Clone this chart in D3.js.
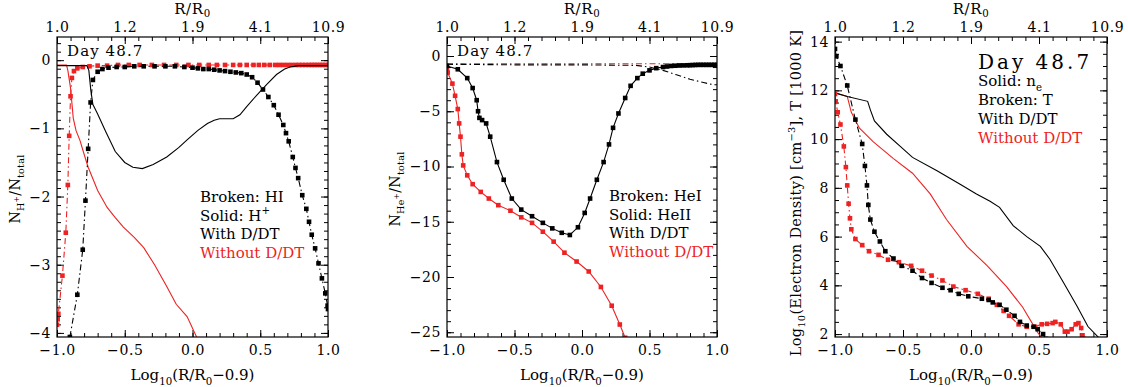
<!DOCTYPE html>
<html><head><meta charset="utf-8">
<script src="https://cdn.jsdelivr.net/npm/d3@7"></script>
<style>
body{margin:0;background:#fff;}
svg{display:block;}
text{font-family:"DejaVu Serif",serif;fill:#000;}
</style></head>
<body><svg id="c" width="1128" height="387"></svg>
<script>
// ---------- tick labels ----------
const xTickValues = [-1, -0.5, 0, 0.5, 1];
const xTickLabels = ["\u22121.0", "\u22120.5", "0.0", "0.5", "1.0"];
const topTickLabels = ["1.0", "1.2", "1.9", "4.1", "10.9"];
const p1YTicks = [0, -1, -2, -3, -4];
const p1YLabels = ["0", "\u22121", "\u22122", "\u22123", "\u22124"];
const p2YTicks = [0, -5, -10, -15, -20, -25];
const p2YLabels = ["0", "\u22125", "\u221210", "\u221215", "\u221220", "\u221225"];
const p3YTicks = [14, 12, 10, 8, 6, 4, 2];
const p3YLabels = ["14", "12", "10", "8", "6", "4", "2"];

// ---------- panel 1: hydrogen ----------
const p1_HII_with = [[-1.0,-0.08],[-0.85,-0.08],[-0.78,-0.08],[-0.765,-0.15],[-0.75,-0.45],[-0.735,-0.65],[-0.70,-0.79],[-0.64,-1.05],[-0.57,-1.34],[-0.50,-1.50],[-0.44,-1.57],[-0.37,-1.59],[-0.29,-1.53],[-0.19,-1.42],[-0.10,-1.28],[-0.04,-1.17],[0.04,-1.03],[0.11,-0.93],[0.16,-0.88],[0.20,-0.86],[0.30,-0.86],[0.35,-0.80],[0.40,-0.68],[0.48,-0.50],[0.55,-0.35],[0.62,-0.21],[0.68,-0.13],[0.72,-0.10],[0.78,-0.08],[1.0,-0.08]];
const p1_HI_with = [[-0.905,-4.06],[-0.85,-3.44],[-0.81,-2.78],[-0.79,-2.06],[-0.77,-1.30],[-0.752,-0.62],[-0.735,-0.29],[-0.70,-0.17],[-0.665,-0.13],[-0.62,-0.11],[-0.56,-0.10],[-0.50,-0.10],[-0.43,-0.09],[-0.36,-0.09],[-0.28,-0.09],[-0.20,-0.09],[-0.13,-0.09],[-0.06,-0.10],[0.0,-0.11],[0.04,-0.12],[0.08,-0.13],[0.12,-0.13],[0.16,-0.14],[0.20,-0.15],[0.24,-0.16],[0.28,-0.17],[0.32,-0.18],[0.36,-0.19],[0.40,-0.21],[0.44,-0.25],[0.48,-0.33],[0.52,-0.43],[0.56,-0.54],[0.60,-0.66],[0.635,-0.80],[0.67,-0.95],[0.69,-1.07],[0.71,-1.19],[0.74,-1.42],[0.76,-1.58],[0.78,-1.73],[0.81,-1.98],[0.84,-2.18],[0.86,-2.37],[0.88,-2.56],[0.905,-2.76],[0.93,-2.98],[0.955,-3.20],[0.98,-3.42],[0.997,-3.60],[1.0,-3.65]];
const p1_HII_without = [[-1.0,-0.07],[-0.93,-0.07],[-0.92,-0.15],[-0.90,-0.41],[-0.88,-0.85],[-0.86,-1.03],[-0.83,-1.18],[-0.80,-1.38],[-0.77,-1.57],[-0.70,-1.91],[-0.63,-2.16],[-0.57,-2.31],[-0.51,-2.45],[-0.43,-2.60],[-0.36,-2.75],[-0.28,-3.00],[-0.19,-3.32],[-0.12,-3.58],[-0.04,-3.76],[0.03,-4.06]];
const p1_HI_without = [[-1.0,-3.88],[-0.995,-3.80],[-0.99,-3.72],[-0.96,-3.16],[-0.935,-2.53],[-0.92,-1.83],[-0.91,-1.11],[-0.90,-0.53],[-0.89,-0.26],[-0.875,-0.16],[-0.85,-0.12],[-0.81,-0.10],[-0.76,-0.09],[-0.70,-0.08],[-0.63,-0.08],[-0.55,-0.07],[-0.47,-0.07],[-0.39,-0.07],[-0.30,-0.07],[-0.21,-0.07],[-0.12,-0.07],[-0.03,-0.07],[0.05,-0.07],[0.12,-0.07],[0.18,-0.07],[0.24,-0.07],[0.30,-0.07],[0.35,-0.07],[0.40,-0.07],[0.45,-0.07],[0.49,-0.07],[0.53,-0.07],[0.57,-0.07],[0.61,-0.07],[0.64,-0.07],[0.67,-0.07],[0.70,-0.07],[0.73,-0.07],[0.76,-0.07],[0.785,-0.07],[0.81,-0.07],[0.835,-0.07],[0.86,-0.07],[0.88,-0.07],[0.90,-0.07],[0.92,-0.07],[0.94,-0.07],[0.96,-0.07],[0.98,-0.07],[1.0,-0.07]];

// ---------- panel 2: helium ----------
const p2_HeII_with = [[-1.0,-0.9],[-0.92,-1.2],[-0.85,-2.0],[-0.81,-2.9],[-0.78,-4.0],[-0.77,-5.0],[-0.76,-5.6],[-0.74,-5.8],[-0.71,-6.1],[-0.68,-7.3],[-0.63,-9.6],[-0.58,-11.2],[-0.52,-12.9],[-0.45,-13.9],[-0.37,-14.5],[-0.29,-15.1],[-0.22,-15.6],[-0.15,-16.0],[-0.09,-16.2],[-0.03,-15.5],[0.02,-14.2],[0.06,-12.9],[0.11,-11.2],[0.16,-9.6],[0.20,-8.0],[0.23,-6.5],[0.27,-5.2],[0.32,-3.8],[0.36,-2.7],[0.41,-2.0],[0.45,-1.6],[0.50,-1.3],[0.55,-1.1],[0.60,-1.0],[0.63,-0.95],[0.66,-0.9],[0.69,-0.88],[0.72,-0.86],[0.75,-0.85],[0.78,-0.84],[0.80,-0.83],[0.82,-0.82],[0.84,-0.81],[0.86,-0.80],[0.88,-0.80],[0.90,-0.80],[0.92,-0.80],[0.94,-0.80],[0.96,-0.80],[0.98,-0.80],[1.0,-0.80]];
const p2_HeI_with = [[-1.0,-0.75],[-0.5,-0.80],[0.0,-0.80],[0.40,-0.85],[0.50,-1.0],[0.60,-1.3],[0.70,-1.7],[0.80,-2.1],[0.90,-2.4],[0.97,-2.6],[1.0,-2.6]];
const p2_HeII_without = [[-1.0,-1.3],[-0.995,-1.5],[-0.96,-2.5],[-0.94,-3.6],[-0.92,-4.8],[-0.91,-6.1],[-0.90,-7.3],[-0.89,-8.9],[-0.88,-9.9],[-0.85,-10.8],[-0.81,-11.6],[-0.75,-12.3],[-0.69,-12.9],[-0.62,-13.5],[-0.53,-14.0],[-0.45,-14.6],[-0.37,-15.1],[-0.29,-15.9],[-0.21,-16.8],[-0.13,-17.8],[-0.04,-18.6],[0.05,-19.5],[0.14,-20.9],[0.22,-22.6],[0.28,-24.3],[0.32,-25.5]];
const p2_HeI_without = [[-1.0,-0.7],[0.0,-0.7],[0.5,-0.7],[1.0,-0.7]];

// ---------- panel 3: electron density & temperature ----------
const p3_ne_with = [[-1.0,11.9],[-0.91,11.75],[-0.76,11.55],[-0.74,11.2],[-0.71,10.75],[-0.62,10.2],[-0.52,9.7],[-0.43,9.25],[-0.25,8.7],[-0.08,8.15],[0.04,7.75],[0.14,7.45],[0.21,7.2],[0.31,6.45],[0.41,6.0],[0.51,5.6],[0.58,5.07],[0.68,4.12],[0.78,3.14],[0.86,2.31],[0.94,1.85]];
const p3_ne_without = [[-1.0,11.9],[-0.91,11.75],[-0.88,11.1],[-0.82,10.45],[-0.72,9.9],[-0.57,9.2],[-0.43,8.6],[-0.30,7.75],[-0.18,6.7],[-0.03,5.6],[0.12,4.8],[0.26,3.96],[0.38,3.1],[0.49,2.07],[0.52,1.85]];
const p3_T_with = [[-1.0,13.7],[-0.99,13.4],[-0.96,13.0],[-0.91,12.2],[-0.85,10.8],[-0.80,9.8],[-0.78,8.9],[-0.765,8.1],[-0.755,7.3],[-0.74,6.7],[-0.71,6.2],[-0.67,5.8],[-0.63,5.4],[-0.57,5.1],[-0.51,4.8],[-0.43,4.6],[-0.36,4.3],[-0.29,4.1],[-0.21,3.9],[-0.15,3.8],[-0.09,3.65],[-0.02,3.55],[0.08,3.45],[0.13,3.4],[0.16,3.3],[0.21,3.2],[0.26,3.0],[0.32,2.75],[0.36,2.5],[0.41,2.35],[0.46,2.3],[0.49,2.2],[0.53,2.0],[0.55,1.8]];
const p3_T_without = [[-1.0,11.85],[-0.995,11.55],[-0.98,11.1],[-0.96,10.6],[-0.935,9.7],[-0.92,8.85],[-0.91,8.1],[-0.90,7.35],[-0.89,6.75],[-0.88,6.3],[-0.85,5.9],[-0.80,5.65],[-0.75,5.4],[-0.68,5.25],[-0.61,5.05],[-0.53,4.95],[-0.44,4.8],[-0.36,4.6],[-0.29,4.4],[-0.21,4.2],[-0.13,3.95],[-0.04,3.8],[0.05,3.65],[0.13,3.45],[0.19,3.2],[0.24,2.95],[0.28,2.75],[0.35,2.4],[0.41,2.3],[0.47,2.3],[0.52,2.4],[0.56,2.42],[0.60,2.45],[0.62,2.5],[0.66,2.4],[0.69,2.1],[0.71,2.1],[0.74,2.2],[0.77,2.4],[0.79,2.45],[0.81,2.25],[0.82,1.95],[0.83,1.8]];

// ---------- drawing ----------
const RED = "#ee2222";
const DASHDOT = "6,3,1.5,3";
const svg = d3.select("#c");

function addRich(sel, parts, size, subShift) {
  const sb = subShift == null ? 0.3 : subShift;
  let cur = 0;
  parts.forEach(([t, m]) => {
    let target = 0, fs = size;
    if (m === "sub") { target = size * sb; fs = size * 0.68; }
    else if (m === "sup") { target = -size * 0.42; fs = size * 0.68; }
    else if (m === "subsup") { target = -size * 0.08; fs = size * 0.55; }
    const ts = sel.append("tspan").text(t).attr("font-size", fs);
    if (target - cur !== 0) ts.attr("dy", target - cur);
    cur = target;
  });
}

function panel(cfg) {
  const g = svg.append("g");
  const x = d3.scaleLinear().domain([-1, 1]).range([cfg.left, cfg.right]);
  const y = d3.scaleLinear().domain(cfg.ydom).range([cfg.bottom, cfg.top]);
  const id = "clip" + cfg.id;
  svg.append("clipPath").attr("id", id).append("rect")
    .attr("x", cfg.left).attr("y", cfg.top).attr("width", cfg.right - cfg.left).attr("height", cfg.bottom - cfg.top);

  const xMinor = d3.range(-10, 11).map(v => v / 10);
  const y0 = Math.ceil(cfg.ydom[0] / cfg.yMinor - 1e-9);
  const y1 = Math.floor(cfg.ydom[1] / cfg.yMinor + 1e-9);
  const yMinor = d3.range(y0, y1 + 1).map(k => k * cfg.yMinor);

  const mk = (axis, tr) => {
    const a = g.append("g").attr("transform", tr).call(axis);
    a.select(".domain").remove();
    a.selectAll("line").attr("stroke", "#000").attr("stroke-width", 1);
    a.selectAll("text").attr("font-family", "DejaVu Serif").attr("font-size", 14)
      .attr("letter-spacing", 0.6).attr("fill", "#000");
    return a;
  };
  mk(d3.axisBottom(x).tickValues(xTickValues).tickSize(-7).tickPadding(8).tickFormat((d, i) => xTickLabels[i]), `translate(0,${cfg.bottom})`);
  mk(d3.axisBottom(x).tickValues(xMinor).tickSize(-4).tickFormat(""), `translate(0,${cfg.bottom})`);
  mk(d3.axisTop(x).tickValues(xTickValues).tickSize(-7).tickPadding(5).tickFormat((d, i) => topTickLabels[i]), `translate(0,${cfg.top})`);
  mk(d3.axisTop(x).tickValues(xMinor).tickSize(-4).tickFormat(""), `translate(0,${cfg.top})`);
  mk(d3.axisLeft(y).tickValues(cfg.yTicks).tickSize(-7).tickPadding(6).tickFormat((d, i) => cfg.yLabels[i]), `translate(${cfg.left},0)`);
  mk(d3.axisLeft(y).tickValues(yMinor).tickSize(-4).tickFormat(""), `translate(${cfg.left},0)`);
  mk(d3.axisRight(y).tickValues(cfg.yTicks).tickSize(-7).tickFormat(""), `translate(${cfg.right},0)`);
  mk(d3.axisRight(y).tickValues(yMinor).tickSize(-4).tickFormat(""), `translate(${cfg.right},0)`);

  const line = d3.line().x(d => x(d[0])).y(d => y(d[1]));
  const plot = g.append("g").attr("clip-path", `url(#${id})`);
  cfg.series.forEach(s => {
    plot.append("path").datum(s.data).attr("d", line).attr("fill", "none")
      .attr("stroke", s.color).attr("stroke-width", 1.1)
      .attr("stroke-dasharray", s.dash ? DASHDOT : null);
    if (s.markers) {
      plot.selectAll(null).data(s.data).enter().append("rect")
        .attr("x", d => x(d[0]) - 2.3).attr("y", d => y(d[1]) - 2.3)
        .attr("width", 4.6).attr("height", 4.6).attr("fill", s.color);
    }
  });

  g.append("rect").attr("x", cfg.left).attr("y", cfg.top).attr("width", cfg.right - cfg.left)
    .attr("height", cfg.bottom - cfg.top).attr("fill", "none").attr("stroke", "#000").attr("stroke-width", 1.2);

  const cx = (cfg.left + cfg.right) / 2;
  addRich(g.append("text").attr("x", cx).attr("y", 14).attr("text-anchor", "middle")
    .attr("font-size", 15).attr("letter-spacing", 0.6), [["R/R", "n"], ["0", "sub"]], 15, 0.2);
  addRich(g.append("text").attr("x", cx).attr("y", 380).attr("text-anchor", "middle")
    .attr("font-size", 15),
    [["Log", "n"], ["10", "sub"], ["(R/R", "n"], ["0", "sub"], ["\u22120.9)", "n"]], 15);
  addRich(g.append("text").attr("transform", `translate(${cfg.ytx},${cfg.yty}) rotate(-90)`)
    .attr("text-anchor", "middle").attr("font-size", cfg.ytSize).attr("letter-spacing", cfg.ytLS), cfg.ytitle, cfg.ytSize);

  g.append("text").attr("x", cfg.dayX).attr("y", cfg.dayY).attr("font-size", cfg.daySize)
    .attr("letter-spacing", cfg.dayLS).text("Day 48.7");
  cfg.legend.forEach((L, i) => {
    const t = g.append("text").attr("x", cfg.legX).attr("y", cfg.legY + i * cfg.legDY).attr("font-size", 15)
      .style("fill", L.color || "#000");
    addRich(t, L.parts, 15);
  });
}

panel({
  id: 1, left: 57, right: 328, top: 37, bottom: 337, ydom: [-4.06, 0.34], yMinor: 0.125,
  yTicks: p1YTicks, yLabels: p1YLabels, ytx: 20, yty: 189, ytSize: 14, ytLS: 0.3,
  ytitle: [["N", "n"], ["H", "sub"], ["+", "subsup"], ["/N", "n"], ["total", "sub"]],
  dayX: 67, dayY: 56, daySize: 15, dayLS: 1.1,
  legX: 200, legY: 202, legDY: 18.7,
  legend: [{parts: [["Broken: HI", "n"]]}, {parts: [["Solid: H", "n"], ["+", "sup"]]},
           {parts: [["With D/DT", "n"]]}, {parts: [["Without D/DT", "n"]], color: RED}],
  series: [
    {data: p1_HII_without, color: RED, dash: false, markers: false},
    {data: p1_HI_without, color: RED, dash: true, markers: true},
    {data: p1_HII_with, color: "#000", dash: false, markers: false},
    {data: p1_HI_with, color: "#000", dash: true, markers: true}
  ]
});
panel({
  id: 2, left: 447, right: 717, top: 37, bottom: 337, ydom: [-25.43, 1.72], yMinor: 1,
  yTicks: p2YTicks, yLabels: p2YLabels, ytx: 400, yty: 189, ytSize: 14, ytLS: 0.3,
  ytitle: [["N", "n"], ["He", "sub"], ["+", "subsup"], ["/N", "n"], ["total", "sub"]],
  dayX: 457, dayY: 56, daySize: 15, dayLS: 1.1,
  legX: 609, legY: 201, legDY: 18.7,
  legend: [{parts: [["Broken: HeI", "n"]]}, {parts: [["Solid: HeII", "n"]]},
           {parts: [["With D/DT", "n"]]}, {parts: [["Without D/DT", "n"]], color: RED}],
  series: [
    {data: p2_HeI_without, color: RED, dash: true, markers: false},
    {data: p2_HeI_with, color: "#000", dash: true, markers: false},
    {data: p2_HeII_without, color: RED, dash: false, markers: true},
    {data: p2_HeII_with, color: "#000", dash: false, markers: true}
  ]
});
panel({
  id: 3, left: 835, right: 1107, top: 37, bottom: 337, ydom: [1.88, 14.19], yMinor: 0.5,
  yTicks: p3YTicks, yLabels: p3YLabels, ytx: 801, yty: 193, ytSize: 14.5, ytLS: 0.3,
  ytitle: [["Log", "n"], ["10", "sub"], ["(Electron Density) [cm", "n"], ["\u22123", "sup"], ["], T [1000 K]", "n"]],
  dayX: 978, dayY: 69, daySize: 20, dayLS: 3,
  legX: 978, legY: 86, legDY: 19,
  legend: [{parts: [["Solid: n", "n"], ["e", "sub"]]}, {parts: [["Broken: T", "n"]]},
           {parts: [["With D/DT", "n"]]}, {parts: [["Without D/DT", "n"]], color: RED}],
  series: [
    {data: p3_ne_without, color: RED, dash: false, markers: false},
    {data: p3_ne_with, color: "#000", dash: false, markers: false},
    {data: p3_T_without, color: RED, dash: true, markers: true},
    {data: p3_T_with, color: "#000", dash: true, markers: true}
  ]
});
</script></body></html>
